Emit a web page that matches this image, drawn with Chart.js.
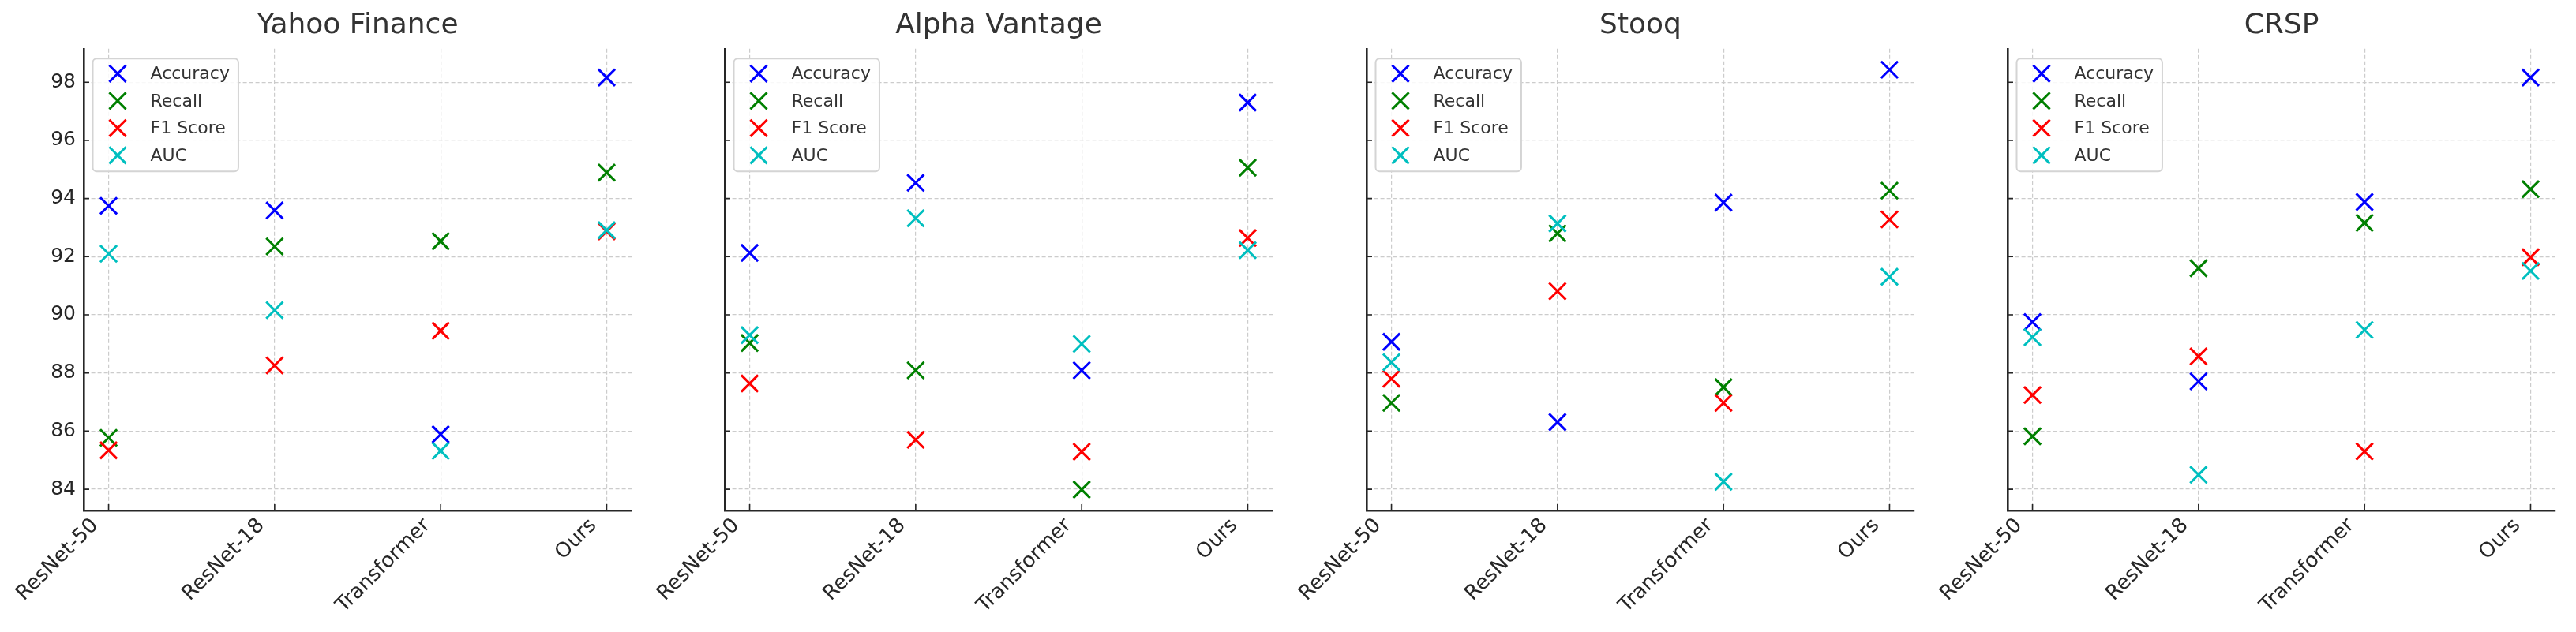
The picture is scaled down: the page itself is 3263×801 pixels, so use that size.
<!DOCTYPE html>
<html>
<head>
<meta charset="utf-8">
<script src="https://cdn.jsdelivr.net/npm/chart.js@4.4.0/dist/chart.umd.min.js"></script>
<style>
  html, body { margin: 0; padding: 0; background: #fff; }
  body { width: 3263px; height: 801px; position: relative; overflow: hidden; }
  canvas { position: absolute; top: 0; }
</style>
</head>
<body>
<canvas id="c0" width="894" height="801" style="left:6px"></canvas>
<canvas id="c1" width="894" height="801" style="left:818px"></canvas>
<canvas id="c2" width="894" height="801" style="left:1631px"></canvas>
<canvas id="c3" width="894" height="801" style="left:2443px"></canvas>
<script>
// categories and series
const models = ['ResNet-50', 'ResNet-18', 'Transformer', 'Ours'];
const metrics = ['Accuracy', 'Recall', 'F1 Score', 'AUC'];
const colors = ['#0000ff', '#008000', '#ff0000', '#00bfbf'];
const yTicks = [84, 86, 88, 90, 92, 94, 96, 98];
const yMin = 83.27;
const yMax = 99.15;

// Yahoo Finance
const yahooAccuracy = [93.75, 93.59, 85.89, 98.16];
const yahooRecall = [85.77, 92.35, 92.53, 94.89];
const yahooF1 = [85.34, 88.26, 89.45, 92.87];
const yahooAUC = [92.10, 90.16, 85.32, 92.91];

// Alpha Vantage
const alphaAccuracy = [92.13, 94.54, 88.09, 97.30];
const alphaRecall = [89.03, 88.09, 83.99, 95.06];
const alphaF1 = [87.64, 85.70, 85.29, 92.64];
const alphaAUC = [89.30, 93.32, 89.00, 92.22];

// Stooq
const stooqAccuracy = [89.07, 86.31, 93.86, 98.43];
const stooqRecall = [86.97, 92.80, 87.51, 94.27];
const stooqF1 = [87.80, 90.81, 86.97, 93.28];
const stooqAUC = [88.37, 93.14, 84.26, 91.31];

// CRSP
const crspAccuracy = [89.75, 87.71, 93.88, 98.16];
const crspRecall = [85.82, 91.60, 93.16, 94.32];
const crspF1 = [87.24, 88.57, 85.30, 91.98];
const crspAUC = [89.23, 84.50, 89.48, 91.51];

const panels = [
  { title: 'Yahoo Finance', series: [yahooAccuracy, yahooRecall, yahooF1, yahooAUC] },
  { title: 'Alpha Vantage', series: [alphaAccuracy, alphaRecall, alphaF1, alphaAUC] },
  { title: 'Stooq', series: [stooqAccuracy, stooqRecall, stooqF1, stooqAUC] },
  { title: 'CRSP', series: [crspAccuracy, crspRecall, crspF1, crspAUC] },
];

const FONT = 'DejaVu Sans';
const INK = '#262626';

// ticks pointing inside the axes, like the matplotlib style
const inTicks = {
  id: 'inTicks',
  beforeDatasetsDraw(chart) {
    const { ctx, chartArea, scales } = chart;
    ctx.save();
    ctx.strokeStyle = INK;
    ctx.lineWidth = 1.6;
    ctx.beginPath();
    yTicks.forEach(v => {
      const y = scales.y.getPixelForValue(v);
      ctx.moveTo(chartArea.left, y);
      ctx.lineTo(chartArea.left + 7, y);
    });
    models.forEach((m, i) => {
      const x = scales.x.getPixelForValue(i);
      ctx.moveTo(x, chartArea.bottom);
      ctx.lineTo(x, chartArea.bottom - 8);
    });
    ctx.stroke();
    ctx.restore();
  }
};

// legend box in the upper left of the axes
const legendBox = {
  id: 'legendBox',
  afterDatasetsDraw(chart) {
    const { ctx, chartArea } = chart;
    const x0 = chartArea.left + 11.5;
    const y0 = chartArea.top + 12.5;
    ctx.save();
    ctx.font = '22px "' + FONT + '"';
    const textW = Math.max(...metrics.map(n => ctx.measureText(n).width));
    const w = 73 + textW + 11;
    const h = 143;
    ctx.fillStyle = 'rgba(255,255,255,0.85)';
    ctx.strokeStyle = '#d4d4d4';
    ctx.lineWidth = 2;
    ctx.beginPath();
    ctx.roundRect(x0, y0, w, h, 5);
    ctx.fill();
    ctx.stroke();
    metrics.forEach((name, i) => {
      const cy = y0 + 19 + i * 34.5;
      const cx = x0 + 31.5;
      ctx.strokeStyle = colors[i];
      ctx.lineWidth = 3;
      ctx.beginPath();
      ctx.moveTo(cx - 10.6, cy - 10.6);
      ctx.lineTo(cx + 10.6, cy + 10.6);
      ctx.moveTo(cx + 10.6, cy - 10.6);
      ctx.lineTo(cx - 10.6, cy + 10.6);
      ctx.stroke();
      ctx.fillStyle = '#333333';
      ctx.textAlign = 'left';
      ctx.textBaseline = 'middle';
      ctx.fillText(name, x0 + 73, cy + 1);
    });
    ctx.restore();
  }
};

panels.forEach((p, k) => {
  const datasets = metrics.map((m, j) => ({
    label: m,
    data: p.series[j].map((v, i) => ({ x: i, y: v })),
    showLine: false,
    pointStyle: 'crossRot',
    pointRadius: 15,
    pointBorderWidth: 3,
    borderColor: colors[j],
    backgroundColor: colors[j],
    order: metrics.length - 1 - j,
  }));

  new Chart(document.getElementById('c' + k), {
    type: 'scatter',
    data: { datasets },
    options: {
      responsive: false,
      animation: false,
      events: [],
      layout: { padding: { left: 0, right: 100, top: 0, bottom: 0 } },
      plugins: {
        legend: { display: false },
        tooltip: { enabled: false },
        title: {
          display: true,
          fullSize: false,
          text: p.title,
          color: '#333333',
          font: { family: FONT, size: 36, weight: 'normal', lineHeight: 1.2 },
          padding: { top: 11, bottom: 7.6 },
        },
      },
      scales: {
        x: {
          type: 'linear',
          min: -0.15,
          max: 3.15,
          afterBuildTicks: s => { s.ticks = models.map((m, i) => ({ value: i })); },
          afterFit: s => { s.height = 154; s.paddingLeft = 0; s.paddingRight = 0; },
          grid: { color: '#cccccc', lineWidth: 1.2, drawTicks: false },
          border: { display: true, color: INK, width: 2.6, dash: [5, 3] },
          ticks: {
            autoSkip: false,
            minRotation: 45,
            maxRotation: 45,
            padding: 4,
            labelOffset: -17,
            color: INK,
            font: { family: FONT, size: 26 },
            callback: v => models[v],
          },
        },
        y: {
          type: 'linear',
          min: yMin,
          max: yMax,
          afterBuildTicks: s => { s.ticks = yTicks.map(v => ({ value: v })); },
          afterFit: s => { s.width = 100; },
          grid: { color: '#cccccc', lineWidth: 1.2, drawTicks: false },
          border: { display: true, color: INK, width: 2.6, dash: [5, 3] },
          ticks: {
            display: k === 0,
            padding: 10,
            color: INK,
            font: { family: FONT, size: 25 },
          },
        },
      },
    },
    plugins: [inTicks, legendBox],
  });
});
</script>
</body>
</html>
